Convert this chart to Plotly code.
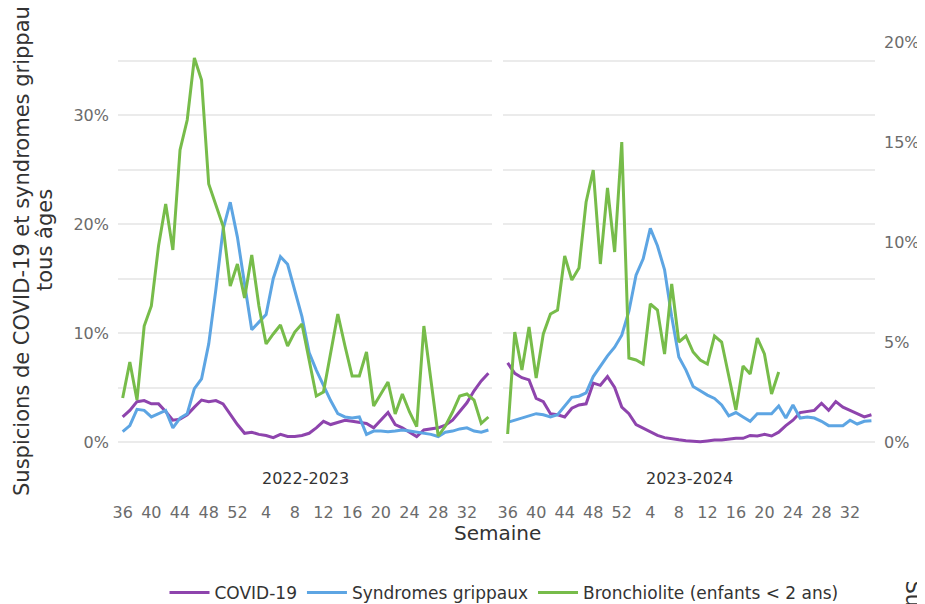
import plotly.graph_objects as go

# ---- data ----
WEEKS = [str(w) for w in list(range(36, 53)) + list(range(1, 36))]
TICK_WEEKS = ["36", "40", "44", "48", "52", "4", "8", "12", "16", "20", "24", "28", "32"]
SEASONS = ["2022-2023", "2023-2024"]

covid_2223 = [2.3, 2.9, 3.7, 3.8, 3.5, 3.5, 2.8, 2.0, 2.1, 2.5, 3.2, 3.85, 3.7, 3.8, 3.5, 2.5, 1.6,
              0.8, 0.9, 0.7, 0.6, 0.4, 0.7, 0.5, 0.5, 0.6, 0.8, 1.3, 1.9, 1.6, 1.8, 2.0, 1.9, 1.8,
              1.7, 1.3, 2.0, 2.7, 1.6, 1.3, 0.9, 0.5, 1.1, 1.2, 1.3, 1.55, 2.0, 2.8, 3.6, 4.7, 5.6, 6.3]
sg_2223 = [0.95, 1.5, 3.0, 2.9, 2.3, 2.6, 2.9, 1.3, 2.2, 2.6, 4.9, 5.8, 9.0, 14.0, 19.5, 22.0, 18.8,
           14.5, 10.3, 11.0, 11.7, 15.0, 17.0, 16.3, 14.0, 11.5, 8.2, 6.6, 5.2, 3.8, 2.6, 2.3, 2.2,
           2.3, 0.7, 1.0, 1.0, 0.95, 1.0, 1.1, 1.0, 0.9, 0.8, 0.7, 0.5, 0.9, 1.0, 1.2, 1.3, 1.0, 0.9, 1.1]
bronchio_2223 = [2.2, 4.0, 2.1, 5.8, 6.8, 9.8, 11.9, 9.6, 14.6, 16.1, 19.2, 18.1, 12.9, 11.9, 10.8,
                 7.8, 8.9, 7.2, 9.35, 6.8, 4.9, 5.4, 5.85, 4.8, 5.5, 5.9, 4.1, 2.3, 2.5, 4.5, 6.4,
                 4.8, 3.3, 3.3, 4.5, 1.8, 2.4, 3.0, 1.4, 2.4, 1.5, 0.77, 5.8, 3.0, 0.3, 0.8, 1.5,
                 2.3, 2.4, 2.1, 0.93, 1.25]

covid_2324 = [7.25, 6.3, 5.9, 5.7, 4.0, 3.7, 2.6, 2.5, 2.3, 3.1, 3.4, 3.5, 5.4, 5.2, 6.0, 5.0, 3.2,
              2.6, 1.6, 1.25, 0.95, 0.6, 0.4, 0.28, 0.2, 0.12, 0.08, 0.03, 0.1, 0.18, 0.18, 0.25,
              0.34, 0.34, 0.6, 0.55, 0.7, 0.55, 0.9, 1.5, 2.0, 2.7, 2.8, 2.9, 3.55, 2.9, 3.7, 3.2,
              2.9, 2.6, 2.3, 2.5]
sg_2324 = [1.8, 2.0, 2.2, 2.4, 2.6, 2.5, 2.3, 2.5, 3.3, 4.1, 4.2, 4.5, 6.0, 7.0, 7.9, 8.7, 9.8,
           12.0, 15.3, 16.8, 19.6, 18.0, 15.8, 11.5, 7.8, 6.6, 5.1, 4.7, 4.3, 4.0, 3.4, 2.4, 2.7,
           2.3, 1.9, 2.6, 2.6, 2.6, 3.3, 2.2, 3.4, 2.2, 2.3, 2.2, 1.9, 1.5, 1.5, 1.5, 2.0, 1.65,
           1.9, 1.95]
bronchio_2324 = [0.4, 5.5, 3.6, 5.75, 3.2, 5.4, 6.4, 6.6, 9.3, 8.1, 8.7, 12.0, 13.6, 8.9, 12.7,
                 9.5, 15.0, 4.2, 4.1, 3.9, 6.9, 6.6, 4.4, 7.9, 5.0, 5.3, 4.5, 4.1, 3.9, 5.3, 5.0,
                 3.3, 1.6, 3.8, 3.4, 5.2, 4.4, 2.4, 3.5]

LEFT_TICKS = [0, 5, 10, 15, 20, 25, 30, 35]
LEFT_TICKTEXT = ["0%", "", "10%", "", "20%", "", "30%", ""]
RIGHT_TICKS = [0, 5, 10, 15, 20]
RIGHT_TICKTEXT = ["0%", "5%", "10%", "15%", "20%"]

SERIES_NAMES = ["COVID-19", "Syndromes grippaux", "Bronchiolite (enfants < 2 ans)"]
COLORS = ["#8E44AD", "#5DA5E3", "#77BC4A"]

# ---- figure geometry (page pixels; the page body has an 8px margin) ----
FONT = "DejaVu Sans"
OFF = 8
W, H = 925 - OFF, 604 - OFF
P_LEFT, P_RIGHT, P_TOP, P_BOTTOM = 118, 875, 30, 500
ML, MR = P_LEFT - OFF, W - (P_RIGHT - OFF)
MT, MB = P_TOP - OFF, H - (P_BOTTOM - OFF)
plot_w = P_RIGHT - P_LEFT
plot_h = P_BOTTOM - P_TOP


def px_x(p):
    return (p - P_LEFT) / plot_w


def px_y(p):
    return (P_BOTTOM - p) / plot_h


fig = go.Figure()

panels = [
    ("x", "y", "y2", covid_2223, sg_2223, bronchio_2223, True),
    ("x2", "y3", "y4", covid_2324, sg_2324, bronchio_2324, False),
]
for xa, ya, ya2, cov, sg, br, show in panels:
    fig.add_trace(go.Scatter(x=WEEKS[:len(cov)], y=cov, mode="lines", name=SERIES_NAMES[0],
                             line=dict(color=COLORS[0], width=3), xaxis=xa, yaxis=ya,
                             showlegend=show, legendrank=1))
    fig.add_trace(go.Scatter(x=WEEKS[:len(sg)], y=sg, mode="lines", name=SERIES_NAMES[1],
                             line=dict(color=COLORS[1], width=3), xaxis=xa, yaxis=ya,
                             showlegend=show, legendrank=2))
    fig.add_trace(go.Scatter(x=WEEKS[:len(br)], y=br, mode="lines", name=SERIES_NAMES[2],
                             line=dict(color=COLORS[2], width=3), xaxis=xa, yaxis=ya2,
                             showlegend=show, legendrank=3))

ZERO_PX = 442
left_range = [(ZERO_PX - P_BOTTOM) / 10.9, (ZERO_PX - P_TOP) / 10.9]
right_range = [(ZERO_PX - P_BOTTOM) / 20.0, (ZERO_PX - P_TOP) / 20.0]
x_range = [-0.65, 51.5]

grid = "#EBEBEB"
tickfont = dict(family=FONT, size=16, color="#6b6b6b")

xcommon = dict(type="category", categoryorder="array", categoryarray=WEEKS, range=x_range,
               tickmode="array", tickvals=TICK_WEEKS, ticktext=TICK_WEEKS,
               showgrid=False, zeroline=False, showline=False, ticks="",
               tickfont=tickfont, ticklabelstandoff=1)
fig.update_layout(
    xaxis=dict(domain=[0, px_x(492)], anchor="y", **xcommon),
    xaxis2=dict(domain=[px_x(503), 1], anchor="y3", **xcommon),
    yaxis=dict(domain=[0, 1], anchor="x", range=left_range, tickmode="array",
               tickvals=LEFT_TICKS, ticktext=LEFT_TICKTEXT, showgrid=True, gridcolor=grid,
               gridwidth=1.5, zeroline=False, showline=False, ticks="", tickfont=tickfont,
               ticklabelstandoff=8),
    yaxis2=dict(anchor="x", overlaying="y", side="right", range=right_range,
                showgrid=False, zeroline=False, showticklabels=False, ticks=""),
    yaxis3=dict(domain=[0, 1], anchor="x2", range=left_range, tickmode="array",
                tickvals=LEFT_TICKS, ticktext=LEFT_TICKTEXT, showgrid=True, gridcolor=grid,
                gridwidth=1.5, zeroline=False, showline=False, ticks="", showticklabels=False),
    yaxis4=dict(anchor="x2", overlaying="y3", side="right", range=right_range,
                tickmode="array", tickvals=RIGHT_TICKS, ticktext=RIGHT_TICKTEXT,
                showgrid=False, zeroline=False, showline=False, ticks="", tickfont=tickfont,
                ticklabelstandoff=8),
    width=W, height=H, autosize=False,
    margin=dict(l=ML, r=MR, t=MT, b=MB, autoexpand=False),
    paper_bgcolor="white", plot_bgcolor="white",
    font=dict(family=FONT, color="#333333"),
    legend=dict(orientation="h", x=px_x(504), xanchor="center", y=px_y(593), yanchor="middle",
                font=dict(family=FONT, size=17, color="#333333"), itemwidth=40,
                bgcolor="rgba(0,0,0,0)"),
)

title_font = dict(family=FONT, size=21, color="#333333")
ann = [
    dict(text=SEASONS[0], x=px_x(305), y=px_y(478)),
    dict(text=SEASONS[1], x=px_x(689), y=px_y(478)),
]
for a in ann:
    a.update(xref="paper", yref="paper", showarrow=False, xanchor="center", yanchor="middle",
             font=dict(family=FONT, size=16, color="#333333"))
ann.append(dict(text="Semaine", x=px_x(497), y=px_y(533), xref="paper", yref="paper",
                xanchor="center", yanchor="middle", showarrow=False,
                font=dict(family=FONT, size=20, color="#333333")))
ann.append(dict(text="Suspicions de COVID-19 et syndromes grippaux",
                x=px_x(22), y=px_y(498), xref="paper", yref="paper", textangle=-90,
                xanchor="center", yanchor="bottom", showarrow=False, font=title_font))
ann.append(dict(text="tous âges",
                x=px_x(45), y=px_y(240), xref="paper", yref="paper", textangle=-90,
                xanchor="center", yanchor="middle", showarrow=False, font=title_font))
ann.append(dict(text="Suspicions de bronchiolite", x=px_x(913), y=px_y(578),
                xref="paper", yref="paper", textangle=90, yanchor="top", xanchor="center",
                showarrow=False, font=title_font))
fig.update_layout(annotations=ann)

fig.write_html("out.html")
